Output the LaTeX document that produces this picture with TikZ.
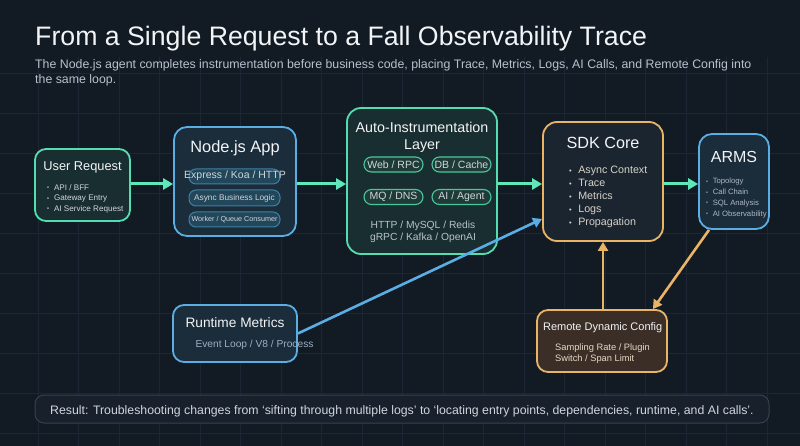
\documentclass[tikz,border=0pt]{standalone}
\usepackage{fontspec}
\setmainfont{Liberation Sans}
\usetikzlibrary{arrows.meta,calc}

\definecolor{bgc}{HTML}{121A24}
\definecolor{gridc}{HTML}{1C2735}
\definecolor{greenc}{HTML}{55DDB0}
\definecolor{greenarrow}{HTML}{5EE8BA}
\definecolor{greenfill}{HTML}{192E30}
\definecolor{bluec}{HTML}{5AAEE4}
\definecolor{bluefill}{HTML}{1B2C3B}
\definecolor{orangec}{HTML}{E9B466}
\definecolor{sdkfill}{HTML}{1B2530}
\definecolor{remotefill}{HTML}{3A2E27}
\definecolor{titlec}{HTML}{F2F4F6}
\definecolor{subc}{HTML}{B8C2CC}
\definecolor{listc}{HTML}{D0D6DC}
\definecolor{sdklistc}{HTML}{D6D2C8}
\definecolor{armslistc}{HTML}{AEB8C2}
\definecolor{rtsubc}{HTML}{9AB0C4}
\definecolor{remsubc}{HTML}{E6D9C3}
\definecolor{npillfill}{HTML}{22465A}
\definecolor{npilldraw}{HTML}{3F7FA2}
\definecolor{apillfill}{HTML}{1E3B38}
\definecolor{apilldraw}{HTML}{48C89C}
\definecolor{resfill}{HTML}{17202B}
\definecolor{resdraw}{HTML}{34424F}

\newcommand\fsz[2]{\fontsize{#1}{#2}\selectfont}
\newcommand\bul{\makebox[0.85em][l]{\raisebox{0.1ex}{\scalebox{0.7}{•}}}}

\begin{document}
\begin{tikzpicture}[x=1pt,y=-1pt,
  boxbase/.style={draw, line width=1.8pt, rounded corners=11pt, inner sep=0pt},
  greenbox/.style={boxbase, draw=greenc, fill=greenfill},
  bluebox/.style={boxbase, draw=bluec, fill=bluefill},
  sdkbox/.style={boxbase, draw=orangec, fill=sdkfill},
  remotebox/.style={boxbase, draw=orangec, fill=remotefill},
  npill/.style={draw=npilldraw, fill=npillfill, line width=1pt, rounded corners=7pt, minimum width=91pt, inner sep=0pt},
  apill/.style={draw=apilldraw, fill=apillfill, line width=1.1pt, rounded corners=7.5pt, minimum width=59pt, minimum height=15pt, inner sep=0pt},
  ttl/.style={text=titlec, inner sep=0pt},
  lst/.style={align=left, inner sep=0pt, anchor=west},
  garrow/.style={draw=greenarrow, line width=3pt, -{Triangle[length=10pt,width=11pt]}},
  barrow/.style={draw=bluec, line width=2.6pt, -{Triangle[length=9pt,width=10pt]}},
  oarrow/.style={draw=orangec, line width=2.6pt, -{Triangle[length=9pt,width=10pt]}},
  gridline/.style={draw=gridc, line width=0.6pt}
]
\useasboundingbox (0,0) rectangle (800,446);
\fill[bgc] (0,0) rectangle (800,446);
\foreach \x in {38,78.5,...,800} \draw[gridline] (\x,57) -- (\x,446);
\foreach \y in {73,113,...,446} \draw[gridline] (0,\y) -- (800,\y);

% title
\node[ttl, anchor=base west, font=\fsz{26.7}{32}] (title) at (35,46) {From a Single Request to a Fall Observability Trace};
\node[anchor=base west, inner sep=0pt, text=subc, font=\fsz{12.35}{15}] (sub1) at (35,68.5) {The Node.js agent completes instrumentation before business code, placing Trace, Metrics, Logs, AI Calls, and Remote Config into};
\node[anchor=base west, inner sep=0pt, text=subc, font=\fsz{12.35}{15}] (sub2) at (35,83.5) {the same loop.};

% boxes
\node[greenbox, minimum width=95pt, minimum height=72pt] (userreq) at (82.5,185) {};
\node[bluebox, minimum width=122pt, minimum height=109pt, rounded corners=13pt] (nodeapp) at (235,181.5) {};
\node[greenbox, minimum width=150pt, minimum height=146pt, rounded corners=14pt] (auto) at (422,181) {};
\node[sdkbox, minimum width=120pt, minimum height=119pt, rounded corners=14pt] (sdk) at (603,181.5) {};
\node[bluebox, minimum width=70pt, minimum height=95pt, rounded corners=13pt] (arms) at (734,181.5) {};
\node[bluebox, minimum width=124pt, minimum height=57pt] (runtime) at (235,333.5) {};
\node[remotebox, minimum width=130pt, minimum height=62pt] (remote) at (602,341) {};
\node[draw=resdraw, fill=resfill, line width=1pt, rounded corners=9pt, minimum width=734pt, minimum height=28pt, inner sep=0pt] (result) at (402,409) {};

% user request
\node[ttl, font=\fsz{12.8}{15}] (userreqT) at (82.5,167) {User Request};
\node[lst, text=listc, font=\fsz{8.1}{10.5}] (userreqL) at (47,198.5) {\bul API / BFF\\ \bul Gateway Entry\\ \bul AI Service Request};

% node.js app
\node[ttl, font=\fsz{16.4}{19}] (nodeappT) at (235,148) {Node.js App};
\node[npill, minimum height=15pt] (np1) at (234.5,176.5) {};
\node[ttl, text=listc, font=\fsz{10.5}{12}] (np1T) at (235,176) {Express / Koa / HTTP};
\node[npill, minimum height=16pt, text=listc, font=\fsz{8.3}{9}] (np2) at (234.5,198) {Async Business Logic};
\node[npill, minimum height=15pt, text=listc, font=\fsz{7.2}{9}] (np3) at (234.5,219.5) {Worker / Queue Consumer};

% auto-instrumentation
\node[ttl, align=center, font=\fsz{14.3}{17}] (autoT) at (422,137.5) {Auto-Instrumentation\\Layer};
\node[apill, text=listc, font=\fsz{10.5}{12}] (ap1) at (393.5,164.5) {Web / RPC};
\node[apill, text=listc, font=\fsz{10.5}{12}] (ap2) at (461.5,164.5) {DB / Cache};
\node[apill, text=listc, font=\fsz{10.5}{12}] (ap3) at (393.5,197) {MQ / DNS};
\node[apill, text=listc, font=\fsz{10.5}{12}] (ap4) at (461.5,197) {AI / Agent};
\node[inner sep=0pt, align=center, text=subc, font=\fsz{10.3}{12}] (autoL) at (423,232) {HTTP / MySQL / Redis\\gRPC / Kafka / OpenAI};

% sdk core
\node[ttl, font=\fsz{16.2}{19}] (sdkT) at (603,143) {SDK Core};
\node[lst, text=sdklistc, font=\fsz{10.7}{13}] (sdkL) at (569,197) {\bul Async Context\\ \bul Trace\\ \bul Metrics\\ \bul Logs\\ \bul Propagation};

% arms
\node[ttl, font=\fsz{16}{19}] (armsT) at (734,157) {ARMS};
\node[lst, text=armslistc, font=\fsz{7.7}{10.7}] (armsL) at (706,198) {\bul Topology\\ \bul Call Chain\\ \bul SQL Analysis\\ \bul AI Observability};

% runtime metrics
\node[ttl, font=\fsz{13.7}{16}] (runtimeT) at (235,323) {Runtime Metrics};
\node[inner sep=0pt, text=rtsubc, font=\fsz{10.2}{12}] (runtimeS) at (254.5,345) {Event Loop / V8 / Process};

% remote config
\node[ttl, font=\fsz{11}{13}] (remoteT) at (602.7,328) {Remote Dynamic Config};
\node[lst, text=remsubc, font=\fsz{9.3}{11}] (remoteS) at (555,353.5) {Sampling Rate / Plugin\\Switch / Span Limit};

% result
\node[anchor=west, inner sep=0pt, text=listc, font=\fsz{12.3}{14}] (resultT) at (50,411) {Result: Troubleshooting changes from ‘sifting through multiple logs’ to ‘locating entry points, dependencies, runtime, and AI calls’.};

% connectors
\coordinate (flow) at (0,184);
\draw[garrow] (userreq.east |- flow) -- (nodeapp.west |- flow);
\draw[garrow] (nodeapp.east |- flow) -- (auto.west |- flow);
\draw[garrow] (auto.east |- flow) -- (sdk.west |- flow);
\draw[garrow] (sdk.east |- flow) -- (arms.west |- flow);
\draw[barrow] (runtime.east) -- ($(sdk.south west)+(0,-23)$);
\draw[oarrow] (remote.north -| sdk.south) -- (sdk.south);
\draw[oarrow] ($(arms.south)+(-25,0)$) -- ($(remote.north east)+(-15,0)$);
\end{tikzpicture}
\end{document}
